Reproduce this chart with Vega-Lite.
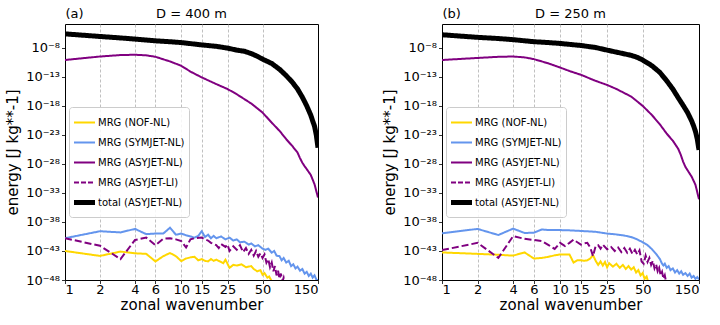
{
  "$schema": "https://vega.github.io/schema/vega-lite/v6.json",
  "padding": {"left": 5, "top": 6, "right": 5, "bottom": 5},
  "config": {
    "font": "DejaVu Sans",
    "view": {"stroke": "black", "strokeWidth": 1},
    "axis": {"labelFontSize": 13, "labelColor": "black", "titleFontSize": 15, "titleFontWeight": "normal", "titleColor": "black", "tickColor": "black", "tickSize": 3.5, "tickWidth": 0.8, "domain": false, "grid": false, "labelPadding": 2},
    "axisX": {"labelPadding": 0, "titlePadding": 1},
    "title": {"fontSize": 13, "fontWeight": "normal", "color": "black"}
  },
  "datasets": {
    "d": [
      {"panel":"a","series":"MRG (NOF-NL)","k":1,"energy":1e-43},
      {"panel":"a","series":"MRG (NOF-NL)","k":2,"energy":1.41e-44},
      {"panel":"a","series":"MRG (NOF-NL)","k":3,"energy":7.94e-44},
      {"panel":"a","series":"MRG (NOF-NL)","k":4,"energy":3.98e-44},
      {"panel":"a","series":"MRG (NOF-NL)","k":5,"energy":3.16e-44},
      {"panel":"a","series":"MRG (NOF-NL)","k":6,"energy":1.58e-45},
      {"panel":"a","series":"MRG (NOF-NL)","k":7,"energy":1.26e-44},
      {"panel":"a","series":"MRG (NOF-NL)","k":8,"energy":4.47e-44},
      {"panel":"a","series":"MRG (NOF-NL)","k":9,"energy":1.26e-44},
      {"panel":"a","series":"MRG (NOF-NL)","k":10,"energy":1.78e-45},
      {"panel":"a","series":"MRG (NOF-NL)","k":11,"energy":5.01e-45},
      {"panel":"a","series":"MRG (NOF-NL)","k":12,"energy":7.94e-45},
      {"panel":"a","series":"MRG (NOF-NL)","k":13,"energy":1e-44},
      {"panel":"a","series":"MRG (NOF-NL)","k":14,"energy":2.51e-45},
      {"panel":"a","series":"MRG (NOF-NL)","k":15,"energy":3.98e-45},
      {"panel":"a","series":"MRG (NOF-NL)","k":16,"energy":2.0e-45},
      {"panel":"a","series":"MRG (NOF-NL)","k":17,"energy":1.58e-45},
      {"panel":"a","series":"MRG (NOF-NL)","k":18,"energy":3.98e-45},
      {"panel":"a","series":"MRG (NOF-NL)","k":19,"energy":2.0e-45},
      {"panel":"a","series":"MRG (NOF-NL)","k":20,"energy":3.16e-45},
      {"panel":"a","series":"MRG (NOF-NL)","k":22,"energy":1.26e-45},
      {"panel":"a","series":"MRG (NOF-NL)","k":23,"energy":7.94e-46},
      {"panel":"a","series":"MRG (NOF-NL)","k":24,"energy":3.16e-45},
      {"panel":"a","series":"MRG (NOF-NL)","k":26,"energy":1.26e-46},
      {"panel":"a","series":"MRG (NOF-NL)","k":28,"energy":3.98e-46},
      {"panel":"a","series":"MRG (NOF-NL)","k":30,"energy":3.16e-46},
      {"panel":"a","series":"MRG (NOF-NL)","k":33,"energy":5.01e-46},
      {"panel":"a","series":"MRG (NOF-NL)","k":36,"energy":1.58e-46},
      {"panel":"a","series":"MRG (NOF-NL)","k":40,"energy":2.51e-46},
      {"panel":"a","series":"MRG (NOF-NL)","k":42,"energy":7.94e-47},
      {"panel":"a","series":"MRG (NOF-NL)","k":45,"energy":3.16e-47},
      {"panel":"a","series":"MRG (NOF-NL)","k":48,"energy":5.01e-47},
      {"panel":"a","series":"MRG (NOF-NL)","k":50,"energy":7.94e-48},
      {"panel":"a","series":"MRG (NOF-NL)","k":52,"energy":1.58e-47},
      {"panel":"a","series":"MRG (NOF-NL)","k":55,"energy":2.51e-48},
      {"panel":"a","series":"MRG (NOF-NL)","k":57,"energy":3.98e-48},
      {"panel":"a","series":"MRG (NOF-NL)","k":60,"energy":6.31e-49},
      {"panel":"a","series":"MRG (NOF-NL)","k":62,"energy":1e-49},

      {"panel":"a","series":"MRG (SYMJET-NL)","k":1,"energy":1.58e-41},
      {"panel":"a","series":"MRG (SYMJET-NL)","k":2,"energy":2.51e-40},
      {"panel":"a","series":"MRG (SYMJET-NL)","k":3,"energy":1.58e-40},
      {"panel":"a","series":"MRG (SYMJET-NL)","k":4,"energy":6.31e-40},
      {"panel":"a","series":"MRG (SYMJET-NL)","k":5,"energy":7.94e-41},
      {"panel":"a","series":"MRG (SYMJET-NL)","k":6,"energy":1e-40},
      {"panel":"a","series":"MRG (SYMJET-NL)","k":7,"energy":1e-40},
      {"panel":"a","series":"MRG (SYMJET-NL)","k":8,"energy":1e-39},
      {"panel":"a","series":"MRG (SYMJET-NL)","k":9,"energy":6.31e-41},
      {"panel":"a","series":"MRG (SYMJET-NL)","k":10,"energy":1e-40},
      {"panel":"a","series":"MRG (SYMJET-NL)","k":11,"energy":5.01e-41},
      {"panel":"a","series":"MRG (SYMJET-NL)","k":12,"energy":3.16e-41},
      {"panel":"a","series":"MRG (SYMJET-NL)","k":13,"energy":2.0e-41},
      {"panel":"a","series":"MRG (SYMJET-NL)","k":14,"energy":3.98e-41},
      {"panel":"a","series":"MRG (SYMJET-NL)","k":15,"energy":2.51e-40},
      {"panel":"a","series":"MRG (SYMJET-NL)","k":16,"energy":2.51e-41},
      {"panel":"a","series":"MRG (SYMJET-NL)","k":17,"energy":6.31e-41},
      {"panel":"a","series":"MRG (SYMJET-NL)","k":18,"energy":1.58e-41},
      {"panel":"a","series":"MRG (SYMJET-NL)","k":19,"energy":3.98e-41},
      {"panel":"a","series":"MRG (SYMJET-NL)","k":20,"energy":1.58e-41},
      {"panel":"a","series":"MRG (SYMJET-NL)","k":22,"energy":3.16e-41},
      {"panel":"a","series":"MRG (SYMJET-NL)","k":24,"energy":1e-41},
      {"panel":"a","series":"MRG (SYMJET-NL)","k":26,"energy":2.0e-41},
      {"panel":"a","series":"MRG (SYMJET-NL)","k":28,"energy":6.31e-42},
      {"panel":"a","series":"MRG (SYMJET-NL)","k":30,"energy":1e-41},
      {"panel":"a","series":"MRG (SYMJET-NL)","k":32,"energy":3.16e-42},
      {"panel":"a","series":"MRG (SYMJET-NL)","k":35,"energy":3.98e-42},
      {"panel":"a","series":"MRG (SYMJET-NL)","k":38,"energy":1.26e-42},
      {"panel":"a","series":"MRG (SYMJET-NL)","k":40,"energy":2.0e-42},
      {"panel":"a","series":"MRG (SYMJET-NL)","k":43,"energy":6.31e-43},
      {"panel":"a","series":"MRG (SYMJET-NL)","k":46,"energy":1e-42},
      {"panel":"a","series":"MRG (SYMJET-NL)","k":50,"energy":2.51e-43},
      {"panel":"a","series":"MRG (SYMJET-NL)","k":53,"energy":1.58e-43},
      {"panel":"a","series":"MRG (SYMJET-NL)","k":56,"energy":2.51e-43},
      {"panel":"a","series":"MRG (SYMJET-NL)","k":60,"energy":5.01e-44},
      {"panel":"a","series":"MRG (SYMJET-NL)","k":63,"energy":1e-43},
      {"panel":"a","series":"MRG (SYMJET-NL)","k":66,"energy":1.58e-44},
      {"panel":"a","series":"MRG (SYMJET-NL)","k":70,"energy":1.26e-44},
      {"panel":"a","series":"MRG (SYMJET-NL)","k":73,"energy":2.51e-45},
      {"panel":"a","series":"MRG (SYMJET-NL)","k":76,"energy":6.31e-45},
      {"panel":"a","series":"MRG (SYMJET-NL)","k":80,"energy":1e-45},
      {"panel":"a","series":"MRG (SYMJET-NL)","k":84,"energy":2.0e-45},
      {"panel":"a","series":"MRG (SYMJET-NL)","k":88,"energy":2.51e-46},
      {"panel":"a","series":"MRG (SYMJET-NL)","k":92,"energy":5.01e-46},
      {"panel":"a","series":"MRG (SYMJET-NL)","k":96,"energy":1e-46},
      {"panel":"a","series":"MRG (SYMJET-NL)","k":100,"energy":2.0e-46},
      {"panel":"a","series":"MRG (SYMJET-NL)","k":105,"energy":3.98e-47},
      {"panel":"a","series":"MRG (SYMJET-NL)","k":110,"energy":7.94e-47},
      {"panel":"a","series":"MRG (SYMJET-NL)","k":115,"energy":1.26e-47},
      {"panel":"a","series":"MRG (SYMJET-NL)","k":120,"energy":2.51e-47},
      {"panel":"a","series":"MRG (SYMJET-NL)","k":125,"energy":5.01e-48},
      {"panel":"a","series":"MRG (SYMJET-NL)","k":130,"energy":1.26e-47},
      {"panel":"a","series":"MRG (SYMJET-NL)","k":135,"energy":2.51e-48},
      {"panel":"a","series":"MRG (SYMJET-NL)","k":140,"energy":6.31e-48},
      {"panel":"a","series":"MRG (SYMJET-NL)","k":145,"energy":1.26e-48},
      {"panel":"a","series":"MRG (SYMJET-NL)","k":150,"energy":1e-48},

      {"panel":"a","series":"MRG (ASYJET-NL)","k":1,"energy":7.94e-11},
      {"panel":"a","series":"MRG (ASYJET-NL)","k":2,"energy":3.16e-10},
      {"panel":"a","series":"MRG (ASYJET-NL)","k":3,"energy":5.62e-10},
      {"panel":"a","series":"MRG (ASYJET-NL)","k":4,"energy":6.31e-10},
      {"panel":"a","series":"MRG (ASYJET-NL)","k":5,"energy":5.01e-10},
      {"panel":"a","series":"MRG (ASYJET-NL)","k":6,"energy":2.82e-10},
      {"panel":"a","series":"MRG (ASYJET-NL)","k":8,"energy":4.47e-11},
      {"panel":"a","series":"MRG (ASYJET-NL)","k":10,"energy":7.94e-12},
      {"panel":"a","series":"MRG (ASYJET-NL)","k":12,"energy":7.94e-13},
      {"panel":"a","series":"MRG (ASYJET-NL)","k":15,"energy":7.94e-14},
      {"panel":"a","series":"MRG (ASYJET-NL)","k":20,"energy":5.62e-15},
      {"panel":"a","series":"MRG (ASYJET-NL)","k":25,"energy":7.94e-16},
      {"panel":"a","series":"MRG (ASYJET-NL)","k":30,"energy":1e-16},
      {"panel":"a","series":"MRG (ASYJET-NL)","k":40,"energy":2.51e-18},
      {"panel":"a","series":"MRG (ASYJET-NL)","k":50,"energy":7.08e-20},
      {"panel":"a","series":"MRG (ASYJET-NL)","k":60,"energy":1.26e-21},
      {"panel":"a","series":"MRG (ASYJET-NL)","k":70,"energy":5.01e-23},
      {"panel":"a","series":"MRG (ASYJET-NL)","k":80,"energy":1.78e-24},
      {"panel":"a","series":"MRG (ASYJET-NL)","k":90,"energy":1.26e-25},
      {"panel":"a","series":"MRG (ASYJET-NL)","k":100,"energy":8.91e-27},
      {"panel":"a","series":"MRG (ASYJET-NL)","k":105,"energy":1e-27},
      {"panel":"a","series":"MRG (ASYJET-NL)","k":110,"energy":1.58e-28},
      {"panel":"a","series":"MRG (ASYJET-NL)","k":115,"energy":3.98e-29},
      {"panel":"a","series":"MRG (ASYJET-NL)","k":120,"energy":1.26e-29},
      {"panel":"a","series":"MRG (ASYJET-NL)","k":130,"energy":1.26e-30},
      {"panel":"a","series":"MRG (ASYJET-NL)","k":140,"energy":3.16e-32},
      {"panel":"a","series":"MRG (ASYJET-NL)","k":150,"energy":1.58e-34},

      {"panel":"a","series":"MRG (ASYJET-LI)","k":1,"energy":1.58e-41},
      {"panel":"a","series":"MRG (ASYJET-LI)","k":2,"energy":7.94e-43},
      {"panel":"a","series":"MRG (ASYJET-LI)","k":3,"energy":3.98e-45},
      {"panel":"a","series":"MRG (ASYJET-LI)","k":4,"energy":7.94e-42},
      {"panel":"a","series":"MRG (ASYJET-LI)","k":5,"energy":2.0e-41},
      {"panel":"a","series":"MRG (ASYJET-LI)","k":6,"energy":1e-42},
      {"panel":"a","series":"MRG (ASYJET-LI)","k":7,"energy":1.26e-41},
      {"panel":"a","series":"MRG (ASYJET-LI)","k":8,"energy":1.58e-41},
      {"panel":"a","series":"MRG (ASYJET-LI)","k":9,"energy":1e-41},
      {"panel":"a","series":"MRG (ASYJET-LI)","k":10,"energy":5.01e-42},
      {"panel":"a","series":"MRG (ASYJET-LI)","k":11,"energy":3.98e-43},
      {"panel":"a","series":"MRG (ASYJET-LI)","k":12,"energy":1e-41},
      {"panel":"a","series":"MRG (ASYJET-LI)","k":13,"energy":1.58e-41},
      {"panel":"a","series":"MRG (ASYJET-LI)","k":15,"energy":2.0e-41},
      {"panel":"a","series":"MRG (ASYJET-LI)","k":16,"energy":1e-41},
      {"panel":"a","series":"MRG (ASYJET-LI)","k":17,"energy":6.31e-42},
      {"panel":"a","series":"MRG (ASYJET-LI)","k":18,"energy":2.51e-42},
      {"panel":"a","series":"MRG (ASYJET-LI)","k":20,"energy":1e-42},
      {"panel":"a","series":"MRG (ASYJET-LI)","k":21,"energy":3.16e-43},
      {"panel":"a","series":"MRG (ASYJET-LI)","k":22,"energy":1.58e-42},
      {"panel":"a","series":"MRG (ASYJET-LI)","k":24,"energy":5.01e-43},
      {"panel":"a","series":"MRG (ASYJET-LI)","k":25,"energy":1.26e-42},
      {"panel":"a","series":"MRG (ASYJET-LI)","k":26,"energy":1e-43},
      {"panel":"a","series":"MRG (ASYJET-LI)","k":28,"energy":6.31e-43},
      {"panel":"a","series":"MRG (ASYJET-LI)","k":30,"energy":1.58e-43},
      {"panel":"a","series":"MRG (ASYJET-LI)","k":32,"energy":1e-42},
      {"panel":"a","series":"MRG (ASYJET-LI)","k":34,"energy":6.31e-44},
      {"panel":"a","series":"MRG (ASYJET-LI)","k":36,"energy":3.16e-43},
      {"panel":"a","series":"MRG (ASYJET-LI)","k":38,"energy":3.16e-44},
      {"panel":"a","series":"MRG (ASYJET-LI)","k":40,"energy":1.58e-43},
      {"panel":"a","series":"MRG (ASYJET-LI)","k":42,"energy":1.58e-44},
      {"panel":"a","series":"MRG (ASYJET-LI)","k":44,"energy":1e-43},
      {"panel":"a","series":"MRG (ASYJET-LI)","k":46,"energy":1e-44},
      {"panel":"a","series":"MRG (ASYJET-LI)","k":48,"energy":3.98e-44},
      {"panel":"a","series":"MRG (ASYJET-LI)","k":50,"energy":6.31e-45},
      {"panel":"a","series":"MRG (ASYJET-LI)","k":52,"energy":2.51e-44},
      {"panel":"a","series":"MRG (ASYJET-LI)","k":54,"energy":1e-45},
      {"panel":"a","series":"MRG (ASYJET-LI)","k":56,"energy":3.98e-45},
      {"panel":"a","series":"MRG (ASYJET-LI)","k":58,"energy":1.58e-46},
      {"panel":"a","series":"MRG (ASYJET-LI)","k":60,"energy":1e-45},
      {"panel":"a","series":"MRG (ASYJET-LI)","k":62,"energy":3.16e-47},
      {"panel":"a","series":"MRG (ASYJET-LI)","k":64,"energy":2.51e-46},
      {"panel":"a","series":"MRG (ASYJET-LI)","k":66,"energy":6.31e-48},
      {"panel":"a","series":"MRG (ASYJET-LI)","k":68,"energy":3.98e-47},
      {"panel":"a","series":"MRG (ASYJET-LI)","k":70,"energy":1.58e-48},
      {"panel":"a","series":"MRG (ASYJET-LI)","k":72,"energy":1.26e-47},
      {"panel":"a","series":"MRG (ASYJET-LI)","k":74,"energy":5.01e-49},
      {"panel":"a","series":"MRG (ASYJET-LI)","k":76,"energy":2.51e-48},
      {"panel":"a","series":"MRG (ASYJET-LI)","k":78,"energy":2.51e-49},

      {"panel":"a","series":"total (ASYJET-NL)","k":1,"energy":2.51e-6},
      {"panel":"a","series":"total (ASYJET-NL)","k":2,"energy":8.91e-7},
      {"panel":"a","series":"total (ASYJET-NL)","k":3,"energy":5.0e-7},
      {"panel":"a","series":"total (ASYJET-NL)","k":4,"energy":3.16e-7},
      {"panel":"a","series":"total (ASYJET-NL)","k":6,"energy":1.58e-7},
      {"panel":"a","series":"total (ASYJET-NL)","k":8,"energy":1.12e-7},
      {"panel":"a","series":"total (ASYJET-NL)","k":10,"energy":7.94e-8},
      {"panel":"a","series":"total (ASYJET-NL)","k":15,"energy":3.16e-8},
      {"panel":"a","series":"total (ASYJET-NL)","k":20,"energy":1.78e-8},
      {"panel":"a","series":"total (ASYJET-NL)","k":25,"energy":8.91e-9},
      {"panel":"a","series":"total (ASYJET-NL)","k":30,"energy":3.98e-9},
      {"panel":"a","series":"total (ASYJET-NL)","k":35,"energy":2.51e-9},
      {"panel":"a","series":"total (ASYJET-NL)","k":40,"energy":1e-9},
      {"panel":"a","series":"total (ASYJET-NL)","k":45,"energy":3.55e-10},
      {"panel":"a","series":"total (ASYJET-NL)","k":50,"energy":1.12e-10},
      {"panel":"a","series":"total (ASYJET-NL)","k":60,"energy":2.0e-11},
      {"panel":"a","series":"total (ASYJET-NL)","k":70,"energy":2.0e-12},
      {"panel":"a","series":"total (ASYJET-NL)","k":80,"energy":1.58e-13},
      {"panel":"a","series":"total (ASYJET-NL)","k":90,"energy":1.26e-14},
      {"panel":"a","series":"total (ASYJET-NL)","k":100,"energy":7.94e-16},
      {"panel":"a","series":"total (ASYJET-NL)","k":110,"energy":3.16e-17},
      {"panel":"a","series":"total (ASYJET-NL)","k":120,"energy":1e-18},
      {"panel":"a","series":"total (ASYJET-NL)","k":130,"energy":2.51e-20},
      {"panel":"a","series":"total (ASYJET-NL)","k":135,"energy":2.51e-21},
      {"panel":"a","series":"total (ASYJET-NL)","k":140,"energy":3.16e-22},
      {"panel":"a","series":"total (ASYJET-NL)","k":145,"energy":1e-23},
      {"panel":"a","series":"total (ASYJET-NL)","k":150,"energy":6.31e-26},

      {"panel":"b","series":"MRG (NOF-NL)","k":1,"energy":5.62e-44},
      {"panel":"b","series":"MRG (NOF-NL)","k":2,"energy":3.16e-44},
      {"panel":"b","series":"MRG (NOF-NL)","k":3,"energy":2.24e-44},
      {"panel":"b","series":"MRG (NOF-NL)","k":4,"energy":1.58e-44},
      {"panel":"b","series":"MRG (NOF-NL)","k":5,"energy":5.62e-44},
      {"panel":"b","series":"MRG (NOF-NL)","k":6,"energy":5.01e-45},
      {"panel":"b","series":"MRG (NOF-NL)","k":7,"energy":6.31e-45},
      {"panel":"b","series":"MRG (NOF-NL)","k":8,"energy":1e-44},
      {"panel":"b","series":"MRG (NOF-NL)","k":9,"energy":1.78e-44},
      {"panel":"b","series":"MRG (NOF-NL)","k":10,"energy":2.51e-44},
      {"panel":"b","series":"MRG (NOF-NL)","k":11,"energy":2.51e-44},
      {"panel":"b","series":"MRG (NOF-NL)","k":12,"energy":2.51e-44},
      {"panel":"b","series":"MRG (NOF-NL)","k":13,"energy":1e-45},
      {"panel":"b","series":"MRG (NOF-NL)","k":14,"energy":2.51e-45},
      {"panel":"b","series":"MRG (NOF-NL)","k":15,"energy":2.51e-45},
      {"panel":"b","series":"MRG (NOF-NL)","k":16,"energy":2.0e-45},
      {"panel":"b","series":"MRG (NOF-NL)","k":17,"energy":2.51e-45},
      {"panel":"b","series":"MRG (NOF-NL)","k":18,"energy":5.01e-45},
      {"panel":"b","series":"MRG (NOF-NL)","k":19,"energy":2.0e-44},
      {"panel":"b","series":"MRG (NOF-NL)","k":20,"energy":2.0e-45},
      {"panel":"b","series":"MRG (NOF-NL)","k":21,"energy":3.98e-46},
      {"panel":"b","series":"MRG (NOF-NL)","k":22,"energy":1.58e-45},
      {"panel":"b","series":"MRG (NOF-NL)","k":23,"energy":3.16e-46},
      {"panel":"b","series":"MRG (NOF-NL)","k":24,"energy":1.26e-45},
      {"panel":"b","series":"MRG (NOF-NL)","k":25,"energy":1.58e-46},
      {"panel":"b","series":"MRG (NOF-NL)","k":26,"energy":7.94e-46},
      {"panel":"b","series":"MRG (NOF-NL)","k":28,"energy":2.0e-46},
      {"panel":"b","series":"MRG (NOF-NL)","k":30,"energy":6.31e-46},
      {"panel":"b","series":"MRG (NOF-NL)","k":32,"energy":1.26e-46},
      {"panel":"b","series":"MRG (NOF-NL)","k":34,"energy":3.98e-46},
      {"panel":"b","series":"MRG (NOF-NL)","k":36,"energy":7.94e-47},
      {"panel":"b","series":"MRG (NOF-NL)","k":38,"energy":2.51e-46},
      {"panel":"b","series":"MRG (NOF-NL)","k":40,"energy":6.31e-47},
      {"panel":"b","series":"MRG (NOF-NL)","k":42,"energy":1.58e-46},
      {"panel":"b","series":"MRG (NOF-NL)","k":44,"energy":2.0e-47},
      {"panel":"b","series":"MRG (NOF-NL)","k":46,"energy":5.01e-47},
      {"panel":"b","series":"MRG (NOF-NL)","k":48,"energy":6.31e-48},
      {"panel":"b","series":"MRG (NOF-NL)","k":50,"energy":1.58e-47},
      {"panel":"b","series":"MRG (NOF-NL)","k":52,"energy":1.58e-48},
      {"panel":"b","series":"MRG (NOF-NL)","k":54,"energy":3.98e-48},
      {"panel":"b","series":"MRG (NOF-NL)","k":56,"energy":3.16e-49},

      {"panel":"b","series":"MRG (SYMJET-NL)","k":1,"energy":1.12e-40},
      {"panel":"b","series":"MRG (SYMJET-NL)","k":2,"energy":6.31e-40},
      {"panel":"b","series":"MRG (SYMJET-NL)","k":3,"energy":5.62e-41},
      {"panel":"b","series":"MRG (SYMJET-NL)","k":4,"energy":7.08e-40},
      {"panel":"b","series":"MRG (SYMJET-NL)","k":5,"energy":1.26e-40},
      {"panel":"b","series":"MRG (SYMJET-NL)","k":6,"energy":1.41e-40},
      {"panel":"b","series":"MRG (SYMJET-NL)","k":7,"energy":5.01e-40},
      {"panel":"b","series":"MRG (SYMJET-NL)","k":8,"energy":3.98e-40},
      {"panel":"b","series":"MRG (SYMJET-NL)","k":10,"energy":3.98e-40},
      {"panel":"b","series":"MRG (SYMJET-NL)","k":12,"energy":3.55e-40},
      {"panel":"b","series":"MRG (SYMJET-NL)","k":15,"energy":2.82e-40},
      {"panel":"b","series":"MRG (SYMJET-NL)","k":20,"energy":2.0e-40},
      {"panel":"b","series":"MRG (SYMJET-NL)","k":25,"energy":1e-40},
      {"panel":"b","series":"MRG (SYMJET-NL)","k":30,"energy":7.08e-41},
      {"panel":"b","series":"MRG (SYMJET-NL)","k":35,"energy":4.47e-41},
      {"panel":"b","series":"MRG (SYMJET-NL)","k":40,"energy":2.51e-41},
      {"panel":"b","series":"MRG (SYMJET-NL)","k":45,"energy":1e-41},
      {"panel":"b","series":"MRG (SYMJET-NL)","k":50,"energy":3.16e-42},
      {"panel":"b","series":"MRG (SYMJET-NL)","k":55,"energy":1e-42},
      {"panel":"b","series":"MRG (SYMJET-NL)","k":60,"energy":2.0e-43},
      {"panel":"b","series":"MRG (SYMJET-NL)","k":65,"energy":3.16e-44},
      {"panel":"b","series":"MRG (SYMJET-NL)","k":70,"energy":3.98e-45},
      {"panel":"b","series":"MRG (SYMJET-NL)","k":73,"energy":6.31e-46},
      {"panel":"b","series":"MRG (SYMJET-NL)","k":75,"energy":3.16e-46},
      {"panel":"b","series":"MRG (SYMJET-NL)","k":77,"energy":6.31e-46},
      {"panel":"b","series":"MRG (SYMJET-NL)","k":80,"energy":1.26e-46},
      {"panel":"b","series":"MRG (SYMJET-NL)","k":83,"energy":2.51e-46},
      {"panel":"b","series":"MRG (SYMJET-NL)","k":86,"energy":5.01e-47},
      {"panel":"b","series":"MRG (SYMJET-NL)","k":90,"energy":1e-46},
      {"panel":"b","series":"MRG (SYMJET-NL)","k":94,"energy":2.0e-47},
      {"panel":"b","series":"MRG (SYMJET-NL)","k":98,"energy":5.01e-47},
      {"panel":"b","series":"MRG (SYMJET-NL)","k":102,"energy":1.26e-47},
      {"panel":"b","series":"MRG (SYMJET-NL)","k":106,"energy":3.16e-47},
      {"panel":"b","series":"MRG (SYMJET-NL)","k":110,"energy":7.94e-48},
      {"panel":"b","series":"MRG (SYMJET-NL)","k":115,"energy":1.58e-47},
      {"panel":"b","series":"MRG (SYMJET-NL)","k":120,"energy":5.01e-48},
      {"panel":"b","series":"MRG (SYMJET-NL)","k":125,"energy":1.26e-47},
      {"panel":"b","series":"MRG (SYMJET-NL)","k":130,"energy":2.51e-48},
      {"panel":"b","series":"MRG (SYMJET-NL)","k":135,"energy":5.01e-48},
      {"panel":"b","series":"MRG (SYMJET-NL)","k":140,"energy":1.58e-48},
      {"panel":"b","series":"MRG (SYMJET-NL)","k":145,"energy":3.16e-48},
      {"panel":"b","series":"MRG (SYMJET-NL)","k":150,"energy":1.26e-48},

      {"panel":"b","series":"MRG (ASYJET-NL)","k":1,"energy":7.94e-11},
      {"panel":"b","series":"MRG (ASYJET-NL)","k":2,"energy":1.78e-10},
      {"panel":"b","series":"MRG (ASYJET-NL)","k":3,"energy":2.82e-10},
      {"panel":"b","series":"MRG (ASYJET-NL)","k":4,"energy":3.16e-10},
      {"panel":"b","series":"MRG (ASYJET-NL)","k":5,"energy":2.24e-10},
      {"panel":"b","series":"MRG (ASYJET-NL)","k":6,"energy":1.12e-10},
      {"panel":"b","series":"MRG (ASYJET-NL)","k":8,"energy":2.0e-11},
      {"panel":"b","series":"MRG (ASYJET-NL)","k":10,"energy":3.98e-12},
      {"panel":"b","series":"MRG (ASYJET-NL)","k":12,"energy":1e-12},
      {"panel":"b","series":"MRG (ASYJET-NL)","k":15,"energy":2.24e-13},
      {"panel":"b","series":"MRG (ASYJET-NL)","k":20,"energy":2.0e-14},
      {"panel":"b","series":"MRG (ASYJET-NL)","k":25,"energy":3.98e-15},
      {"panel":"b","series":"MRG (ASYJET-NL)","k":30,"energy":7.94e-16},
      {"panel":"b","series":"MRG (ASYJET-NL)","k":40,"energy":3.98e-17},
      {"panel":"b","series":"MRG (ASYJET-NL)","k":50,"energy":1e-18},
      {"panel":"b","series":"MRG (ASYJET-NL)","k":60,"energy":2.51e-20},
      {"panel":"b","series":"MRG (ASYJET-NL)","k":70,"energy":6.31e-22},
      {"panel":"b","series":"MRG (ASYJET-NL)","k":80,"energy":1.58e-23},
      {"panel":"b","series":"MRG (ASYJET-NL)","k":90,"energy":1e-24},
      {"panel":"b","series":"MRG (ASYJET-NL)","k":100,"energy":3.98e-26},
      {"panel":"b","series":"MRG (ASYJET-NL)","k":105,"energy":3.98e-27},
      {"panel":"b","series":"MRG (ASYJET-NL)","k":110,"energy":2.51e-28},
      {"panel":"b","series":"MRG (ASYJET-NL)","k":115,"energy":3.16e-29},
      {"panel":"b","series":"MRG (ASYJET-NL)","k":120,"energy":7.94e-30},
      {"panel":"b","series":"MRG (ASYJET-NL)","k":130,"energy":6.31e-31},
      {"panel":"b","series":"MRG (ASYJET-NL)","k":140,"energy":2.51e-32},
      {"panel":"b","series":"MRG (ASYJET-NL)","k":150,"energy":7.94e-35},

      {"panel":"b","series":"MRG (ASYJET-LI)","k":1,"energy":1.41e-43},
      {"panel":"b","series":"MRG (ASYJET-LI)","k":2,"energy":2.51e-42},
      {"panel":"b","series":"MRG (ASYJET-LI)","k":3,"energy":6.31e-45},
      {"panel":"b","series":"MRG (ASYJET-LI)","k":4,"energy":3.55e-41},
      {"panel":"b","series":"MRG (ASYJET-LI)","k":5,"energy":1.26e-41},
      {"panel":"b","series":"MRG (ASYJET-LI)","k":6,"energy":7.94e-42},
      {"panel":"b","series":"MRG (ASYJET-LI)","k":7,"energy":5.01e-42},
      {"panel":"b","series":"MRG (ASYJET-LI)","k":8,"energy":1e-42},
      {"panel":"b","series":"MRG (ASYJET-LI)","k":9,"energy":2.24e-43},
      {"panel":"b","series":"MRG (ASYJET-LI)","k":10,"energy":2.51e-42},
      {"panel":"b","series":"MRG (ASYJET-LI)","k":11,"energy":7.08e-43},
      {"panel":"b","series":"MRG (ASYJET-LI)","k":12,"energy":2.51e-42},
      {"panel":"b","series":"MRG (ASYJET-LI)","k":13,"energy":8.91e-42},
      {"panel":"b","series":"MRG (ASYJET-LI)","k":14,"energy":3.16e-42},
      {"panel":"b","series":"MRG (ASYJET-LI)","k":15,"energy":1.26e-42},
      {"panel":"b","series":"MRG (ASYJET-LI)","k":16,"energy":2.0e-42},
      {"panel":"b","series":"MRG (ASYJET-LI)","k":17,"energy":2.51e-42},
      {"panel":"b","series":"MRG (ASYJET-LI)","k":18,"energy":3.98e-43},
      {"panel":"b","series":"MRG (ASYJET-LI)","k":19,"energy":1.26e-44},
      {"panel":"b","series":"MRG (ASYJET-LI)","k":20,"energy":7.08e-43},
      {"panel":"b","series":"MRG (ASYJET-LI)","k":21,"energy":1e-42},
      {"panel":"b","series":"MRG (ASYJET-LI)","k":22,"energy":2.51e-43},
      {"panel":"b","series":"MRG (ASYJET-LI)","k":23,"energy":1.26e-42},
      {"panel":"b","series":"MRG (ASYJET-LI)","k":25,"energy":2.0e-43},
      {"panel":"b","series":"MRG (ASYJET-LI)","k":27,"energy":5.01e-43},
      {"panel":"b","series":"MRG (ASYJET-LI)","k":29,"energy":1e-43},
      {"panel":"b","series":"MRG (ASYJET-LI)","k":31,"energy":3.98e-43},
      {"panel":"b","series":"MRG (ASYJET-LI)","k":33,"energy":6.31e-44},
      {"panel":"b","series":"MRG (ASYJET-LI)","k":35,"energy":3.16e-43},
      {"panel":"b","series":"MRG (ASYJET-LI)","k":37,"energy":5.01e-44},
      {"panel":"b","series":"MRG (ASYJET-LI)","k":39,"energy":2.51e-43},
      {"panel":"b","series":"MRG (ASYJET-LI)","k":41,"energy":3.16e-44},
      {"panel":"b","series":"MRG (ASYJET-LI)","k":43,"energy":1.58e-43},
      {"panel":"b","series":"MRG (ASYJET-LI)","k":45,"energy":2.51e-44},
      {"panel":"b","series":"MRG (ASYJET-LI)","k":47,"energy":1.26e-43},
      {"panel":"b","series":"MRG (ASYJET-LI)","k":49,"energy":1.58e-45},
      {"panel":"b","series":"MRG (ASYJET-LI)","k":51,"energy":6.31e-46},
      {"panel":"b","series":"MRG (ASYJET-LI)","k":53,"energy":1.58e-44},
      {"panel":"b","series":"MRG (ASYJET-LI)","k":55,"energy":1.26e-45},
      {"panel":"b","series":"MRG (ASYJET-LI)","k":57,"energy":6.31e-45},
      {"panel":"b","series":"MRG (ASYJET-LI)","k":59,"energy":3.98e-46},
      {"panel":"b","series":"MRG (ASYJET-LI)","k":61,"energy":2.0e-45},
      {"panel":"b","series":"MRG (ASYJET-LI)","k":63,"energy":1e-46},
      {"panel":"b","series":"MRG (ASYJET-LI)","k":65,"energy":5.01e-46},
      {"panel":"b","series":"MRG (ASYJET-LI)","k":67,"energy":3.16e-47},
      {"panel":"b","series":"MRG (ASYJET-LI)","k":69,"energy":1.26e-46},
      {"panel":"b","series":"MRG (ASYJET-LI)","k":71,"energy":6.31e-48},
      {"panel":"b","series":"MRG (ASYJET-LI)","k":73,"energy":2.51e-47},
      {"panel":"b","series":"MRG (ASYJET-LI)","k":75,"energy":1.58e-48},
      {"panel":"b","series":"MRG (ASYJET-LI)","k":77,"energy":6.31e-48},
      {"panel":"b","series":"MRG (ASYJET-LI)","k":79,"energy":3.98e-49},
      {"panel":"b","series":"MRG (ASYJET-LI)","k":81,"energy":1.58e-49},

      {"panel":"b","series":"total (ASYJET-NL)","k":1,"energy":1.78e-6},
      {"panel":"b","series":"total (ASYJET-NL)","k":2,"energy":6.31e-7},
      {"panel":"b","series":"total (ASYJET-NL)","k":3,"energy":3.98e-7},
      {"panel":"b","series":"total (ASYJET-NL)","k":4,"energy":2.51e-7},
      {"panel":"b","series":"total (ASYJET-NL)","k":6,"energy":1.12e-7},
      {"panel":"b","series":"total (ASYJET-NL)","k":8,"energy":7.94e-8},
      {"panel":"b","series":"total (ASYJET-NL)","k":10,"energy":5.62e-8},
      {"panel":"b","series":"total (ASYJET-NL)","k":15,"energy":2.51e-8},
      {"panel":"b","series":"total (ASYJET-NL)","k":20,"energy":1.12e-8},
      {"panel":"b","series":"total (ASYJET-NL)","k":25,"energy":3.98e-9},
      {"panel":"b","series":"total (ASYJET-NL)","k":30,"energy":1.78e-9},
      {"panel":"b","series":"total (ASYJET-NL)","k":40,"energy":5.01e-10},
      {"panel":"b","series":"total (ASYJET-NL)","k":45,"energy":2.24e-10},
      {"panel":"b","series":"total (ASYJET-NL)","k":50,"energy":7.94e-11},
      {"panel":"b","series":"total (ASYJET-NL)","k":60,"energy":7.94e-12},
      {"panel":"b","series":"total (ASYJET-NL)","k":70,"energy":5.62e-13},
      {"panel":"b","series":"total (ASYJET-NL)","k":80,"energy":2.0e-14},
      {"panel":"b","series":"total (ASYJET-NL)","k":90,"energy":7.94e-16},
      {"panel":"b","series":"total (ASYJET-NL)","k":100,"energy":2.51e-17},
      {"panel":"b","series":"total (ASYJET-NL)","k":110,"energy":1.26e-18},
      {"panel":"b","series":"total (ASYJET-NL)","k":120,"energy":7.08e-20},
      {"panel":"b","series":"total (ASYJET-NL)","k":130,"energy":2.51e-21},
      {"panel":"b","series":"total (ASYJET-NL)","k":135,"energy":3.55e-22},
      {"panel":"b","series":"total (ASYJET-NL)","k":140,"energy":3.98e-23},
      {"panel":"b","series":"total (ASYJET-NL)","k":145,"energy":2.0e-24},
      {"panel":"b","series":"total (ASYJET-NL)","k":150,"energy":2.51e-26}
    ]
  },
  "spacing": 63,
  "resolve": {"legend": {"color": "independent"}},
  "hconcat": [
    {
      "width": 253, "height": 256,
      "title": {"text": "D = 400 m", "anchor": "middle", "frame": "group", "offset": -14},
      "data": {"name": "d"},
      "transform": [{"filter": "datum.panel == 'a'"}],
      "resolve": {"axis": {"x": "independent"}},
      "encoding": {
        "x": {"field": "k", "type": "quantitative", "scale": {"type": "log", "domain": [1, 150], "nice": false},
              "axis": {"orient": "bottom", "values": [1, 2, 4, 6, 10, 15, 25, 50, 150], "format": "d", "title": "zonal wavenumber", "grid": true, "gridDash": [3, 2], "gridColor": "#b0b0b0", "gridWidth": 0.8,
                       "gridOpacity": {"condition": {"test": "datum.value == 1 || datum.value == 150", "value": 0}, "value": 1}}},
        "y": {"field": "energy", "type": "quantitative", "scale": {"type": "log", "domain": [1e-48, 1.26e-4], "nice": false},
              "axis": {"values": [1e-48, 1e-43, 1e-38, 1e-33, 1e-28, 1e-23, 1e-18, 1e-13, 1e-8], "title": "energy [J kg**-1]", "titlePadding": 5,
                       "labelExpr": "'10⁻' + (round(-log(datum.value)/LN10) >= 10 ? ['⁰','¹','²','³','⁴','⁵','⁶','⁷','⁸','⁹'][floor(round(-log(datum.value)/LN10)/10)] : '') + ['⁰','¹','²','³','⁴','⁵','⁶','⁷','⁸','⁹'][round(-log(datum.value)/LN10) % 10]"}},
        "color": {"field": "series", "type": "nominal",
                  "scale": {"domain": ["MRG (NOF-NL)", "MRG (SYMJET-NL)", "MRG (ASYJET-NL)", "MRG (ASYJET-LI)", "total (ASYJET-NL)"], "range": ["#FFD700", "#6495ED", "#800080", "#800080", "#000000"]},
                  "legend": {"orient": "none", "legendX": 4, "legendY": 83, "title": null, "columns": 1, "labelFontSize": 10, "labelColor": "black", "fillColor": "rgba(255,255,255,0.85)", "strokeColor": "#cccccc", "cornerRadius": 3, "padding": 4, "rowPadding": 3,
                             "symbolType": "stroke", "symbolSize": 441, "symbolStrokeWidth": 2, "labelOffset": 2,
                             "encode": {"symbols": {"update": {"size": {"value": 441}, "strokeWidth": {"signal": "(datum.value == 'total (ASYJET-NL)' ? 5 : 2)"}, "strokeDash": {"signal": "(datum.value == 'MRG (ASYJET-LI)' ? [5, 2] : [1, 0])"}}}}}},
        "strokeDash": {"field": "series", "type": "nominal", "legend": null,
                  "scale": {"domain": ["MRG (NOF-NL)", "MRG (SYMJET-NL)", "MRG (ASYJET-NL)", "MRG (ASYJET-LI)", "total (ASYJET-NL)"], "range": [[1, 0], [1, 0], [1, 0], [7, 3], [1, 0]]}}
      },
      "layer": [
        {
          "layer": [
            {
              "transform": [{"filter": "datum.series != 'total (ASYJET-NL)'"}],
              "mark": {"type": "line", "clip": true, "strokeWidth": 2}
            },
            {
              "transform": [{"filter": "datum.series == 'total (ASYJET-NL)'"}],
              "mark": {"type": "line", "clip": true, "strokeWidth": 5}
            }
          ]
        },
        {
          "mark": {"type": "line", "strokeOpacity": 0},
          "encoding": {
            "x": {"field": "k", "type": "quantitative", "axis": {"orient": "top", "labels": false, "ticks": false, "grid": false, "title": "(a)", "titleAnchor": "start", "titleFontSize": 13, "titlePadding": 4}},
            "color": {"value": "black"},
            "strokeDash": {"value": [1, 0]}
          }
        }
      ]
    },
    {
      "width": 257, "height": 256,
      "title": {"text": "D = 250 m", "anchor": "middle", "frame": "group", "offset": -14},
      "data": {"name": "d"},
      "transform": [{"filter": "datum.panel == 'b'"}],
      "resolve": {"axis": {"x": "independent"}},
      "encoding": {
        "x": {"field": "k", "type": "quantitative", "scale": {"type": "log", "domain": [1, 150], "nice": false},
              "axis": {"orient": "bottom", "values": [1, 2, 4, 6, 10, 15, 25, 50, 150], "format": "d", "title": "zonal wavenumber", "grid": true, "gridDash": [3, 2], "gridColor": "#b0b0b0", "gridWidth": 0.8,
                       "gridOpacity": {"condition": {"test": "datum.value == 1 || datum.value == 150", "value": 0}, "value": 1}}},
        "y": {"field": "energy", "type": "quantitative", "scale": {"type": "log", "domain": [1e-48, 1.26e-4], "nice": false},
              "axis": {"values": [1e-48, 1e-43, 1e-38, 1e-33, 1e-28, 1e-23, 1e-18, 1e-13, 1e-8], "title": "energy [J kg**-1]", "titlePadding": 5,
                       "labelExpr": "'10⁻' + (round(-log(datum.value)/LN10) >= 10 ? ['⁰','¹','²','³','⁴','⁵','⁶','⁷','⁸','⁹'][floor(round(-log(datum.value)/LN10)/10)] : '') + ['⁰','¹','²','³','⁴','⁵','⁶','⁷','⁸','⁹'][round(-log(datum.value)/LN10) % 10]"}},
        "color": {"field": "series", "type": "nominal",
                  "scale": {"domain": ["MRG (NOF-NL)", "MRG (SYMJET-NL)", "MRG (ASYJET-NL)", "MRG (ASYJET-LI)", "total (ASYJET-NL)"], "range": ["#FFD700", "#6495ED", "#800080", "#800080", "#000000"]},
                  "legend": {"orient": "none", "legendX": 4, "legendY": 83, "title": null, "columns": 1, "labelFontSize": 10, "labelColor": "black", "fillColor": "rgba(255,255,255,0.85)", "strokeColor": "#cccccc", "cornerRadius": 3, "padding": 4, "rowPadding": 3,
                             "symbolType": "stroke", "symbolSize": 441, "symbolStrokeWidth": 2, "labelOffset": 2,
                             "encode": {"symbols": {"update": {"size": {"value": 441}, "strokeWidth": {"signal": "(datum.value == 'total (ASYJET-NL)' ? 5 : 2)"}, "strokeDash": {"signal": "(datum.value == 'MRG (ASYJET-LI)' ? [5, 2] : [1, 0])"}}}}}},
        "strokeDash": {"field": "series", "type": "nominal", "legend": null,
                  "scale": {"domain": ["MRG (NOF-NL)", "MRG (SYMJET-NL)", "MRG (ASYJET-NL)", "MRG (ASYJET-LI)", "total (ASYJET-NL)"], "range": [[1, 0], [1, 0], [1, 0], [7, 3], [1, 0]]}}
      },
      "layer": [
        {
          "layer": [
            {
              "transform": [{"filter": "datum.series != 'total (ASYJET-NL)'"}],
              "mark": {"type": "line", "clip": true, "strokeWidth": 2}
            },
            {
              "transform": [{"filter": "datum.series == 'total (ASYJET-NL)'"}],
              "mark": {"type": "line", "clip": true, "strokeWidth": 5}
            }
          ]
        },
        {
          "mark": {"type": "line", "strokeOpacity": 0},
          "encoding": {
            "x": {"field": "k", "type": "quantitative", "axis": {"orient": "top", "labels": false, "ticks": false, "grid": false, "title": "(b)", "titleAnchor": "start", "titleFontSize": 13, "titlePadding": 4}},
            "color": {"value": "black"},
            "strokeDash": {"value": [1, 0]}
          }
        }
      ]
    }
  ]
}
